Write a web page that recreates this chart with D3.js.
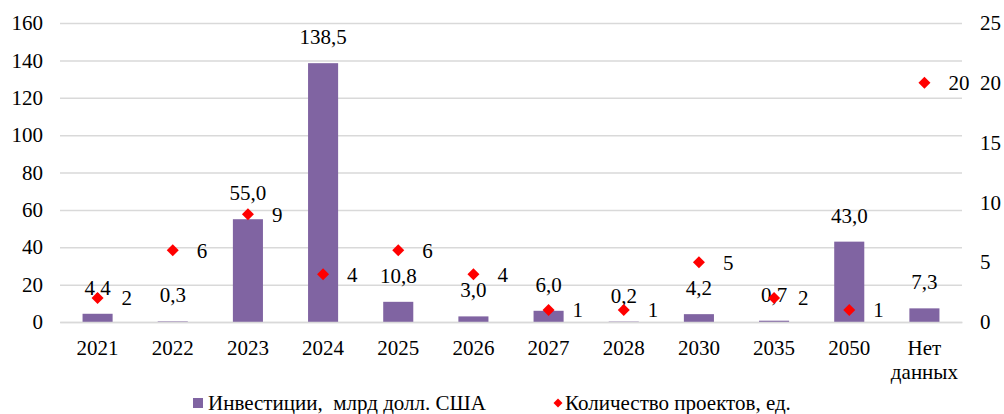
<!DOCTYPE html>
<html>
<head>
<meta charset="utf-8">
<script src="https://cdn.jsdelivr.net/npm/d3@7"></script>
<style>
  body { margin: 0; background: #fff; }
</style>
</head>
<body>
<svg id="chart"></svg>
<script>
// data
const categories = ["2021", "2022", "2023", "2024", "2025", "2026", "2027", "2028", "2030", "2035", "2050", "Нет данных"];
const investments = [4.4, 0.3, 55.0, 138.5, 10.8, 3.0, 6.0, 0.2, 4.2, 0.7, 43.0, 7.3];
const projects = [2, 6, 9, 4, 6, 4, 1, 1, 5, 2, 1, 20];
const leftTicks = [0, 20, 40, 60, 80, 100, 120, 140, 160];
const rightTicks = [0, 5, 10, 15, 20, 25];
const seriesNames = ["Инвестиции,  млрд долл. США", "Количество проектов, ед."];

const width = 1004;
const height = 414;
const plotLeft = 60, plotRight = 962, plotTop = 23, plotBottom = 322;
const fontSize = 21;
const fontFamily = "'Liberation Serif'";

const barColor = "#8064A2";
const markColor = "#FF0000";
const gridColor = "#D9D9D9";

let svg = d3.select("#chart")
  .attr("width", width)
  .attr("height", height);

// scales
let xScale = d3.scaleBand().domain(categories).range([plotLeft, plotRight]).paddingInner(0.6).paddingOuter(0.3);
let yLeft = d3.scaleLinear().domain([0, 160]).range([plotBottom, plotTop]);
let yRight = d3.scaleLinear().domain([0, 25]).range([plotBottom, plotTop]);

// gridlines
svg.append("g")
  .attr("transform", "translate(" + plotLeft + ",0)")
  .call(d3.axisLeft(yLeft).tickValues(leftTicks).tickSize(-(plotRight - plotLeft)).tickFormat(""))
  .call(g => g.select(".domain").remove())
  .call(g => g.selectAll("line").attr("stroke", gridColor).attr("stroke-width", 1.5));

// left axis labels
svg.append("g")
  .attr("transform", "translate(" + (plotLeft - 17) + ",0)")
  .call(d3.axisLeft(yLeft).tickValues(leftTicks).tickSize(0))
  .call(g => g.select(".domain").remove())
  .call(g => g.selectAll("text").attr("fill", "#000").attr("dy", "0.32em").attr("x", 0));

// right axis labels
svg.append("g")
  .attr("transform", "translate(" + (plotRight + 18) + ",0)")
  .call(d3.axisRight(yRight).tickValues(rightTicks).tickSize(0))
  .call(g => g.select(".domain").remove())
  .call(g => g.selectAll("text").attr("fill", "#000").attr("dy", "0.32em").attr("x", 0));

// bars
svg.selectAll("rect.bar")
  .data(investments)
  .enter()
  .append("rect")
  .attr("class", "bar")
  .attr("x", (d, i) => xScale(categories[i]))
  .attr("width", xScale.bandwidth())
  .attr("y", d => yLeft(d))
  .attr("height", d => yLeft(0) - yLeft(d))
  .attr("fill", barColor);

// bar labels
svg.selectAll("text.barlabel")
  .data(investments)
  .enter()
  .append("text")
  .attr("class", "barlabel")
  .attr("x", (d, i) => xScale(categories[i]) + xScale.bandwidth() / 2)
  .attr("y", d => yLeft(d) - 19)
  .attr("text-anchor", "middle")
  .text(d => d3.format(".1f")(d).replace(".", ","));

// x axis
let xAxis = svg.append("g")
  .attr("transform", "translate(0," + plotBottom + ")")
  .call(d3.axisBottom(xScale).tickSize(0).tickFormat(""));
xAxis.select(".domain").attr("stroke", gridColor).attr("stroke-width", 1.5);
xAxis.selectAll(".tick").each(function (d) {
  let t = d3.select(this).append("text")
    .attr("text-anchor", "middle")
    .attr("fill", "#000");
  let lines = d.split(" ");
  lines.forEach((line, k) => {
    t.append("tspan").attr("x", 0).attr("y", 33 + k * 24).text(line);
  });
});

// diamonds
let diamond = d3.symbol().type(d3.symbolSquare).size(72);
svg.selectAll("path.mark")
  .data(projects)
  .enter()
  .append("path")
  .attr("class", "mark")
  .attr("d", diamond)
  .attr("transform", (d, i) => "translate(" + (xScale(categories[i]) + xScale.bandwidth() / 2) + "," + yRight(d) + ") rotate(45)")
  .attr("fill", markColor);

// project labels
svg.selectAll("text.marklabel")
  .data(projects)
  .enter()
  .append("text")
  .attr("class", "marklabel")
  .attr("x", (d, i) => xScale(categories[i]) + xScale.bandwidth() / 2 + 24)
  .attr("y", d => yRight(d))
  .attr("dy", "0.35em")
  .text(d => d);

// legend
let legend = svg.append("g").attr("transform", "translate(0,403)");
legend.append("rect").attr("x", 193).attr("y", -5).attr("width", 10).attr("height", 10).attr("fill", barColor);
legend.append("text").attr("x", 208).attr("y", 0).attr("dy", "0.35em").style("white-space", "pre").text(seriesNames[0]);
legend.append("path").attr("d", d3.symbol().type(d3.symbolSquare).size(40))
  .attr("transform", "translate(558,0) rotate(45)").attr("fill", markColor);
legend.append("text").attr("x", 565).attr("y", 0).attr("dy", "0.35em").text(seriesNames[1]);

// font for every text
svg.selectAll("text")
  .style("font-family", fontFamily)
  .style("font-size", fontSize + "px")
  .style("fill", "#000");
</script>
</body>
</html>
